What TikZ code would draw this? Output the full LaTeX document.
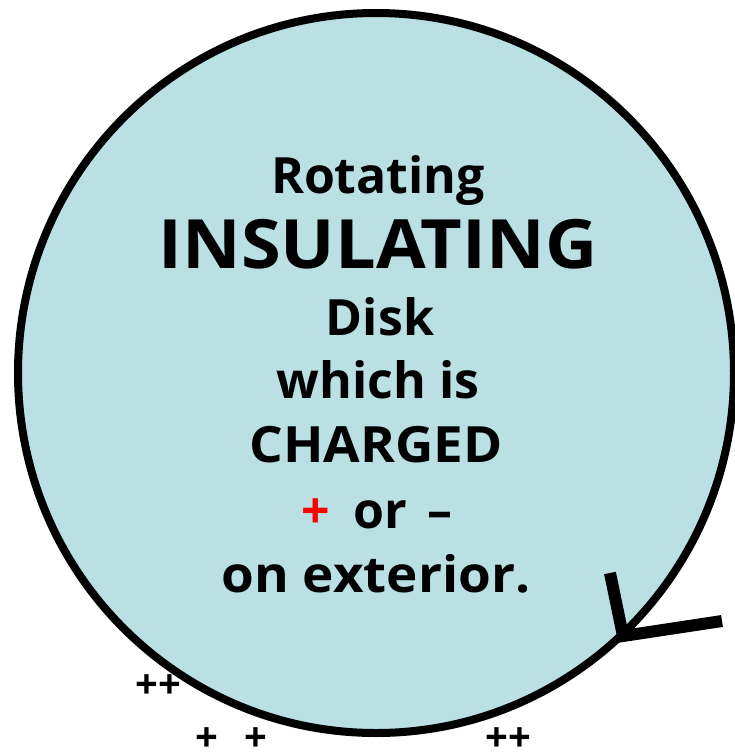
\documentclass[tikz,border=0pt]{standalone}
\usepackage{fontspec}
\setmainfont{Open Sans}
\newfontfamily\widefont{Open Sans}[FakeStretch=1.06]
\definecolor{diskfill}{RGB}{186,224,228}
\definecolor{plusred}{RGB}{255,0,0}
\begin{document}
\begin{tikzpicture}[x=1pt,y=-1pt,
  txt/.style={anchor=base,inner sep=0pt,font=\bfseries\fontsize{50}{50}\selectfont},
  widetxt/.style={anchor=base,inner sep=0pt,font=\widefont\bfseries\fontsize{50}{50}\selectfont},
  big/.style={anchor=base,inner sep=0pt,font=\widefont\bfseries\fontsize{68}{68}\selectfont},
  chg/.style={anchor=center,inner sep=0pt,font=\bfseries\fontsize{40}{40}\selectfont},
  ymark/.style={line width=12pt}]
\useasboundingbox (0,0) rectangle (735,753);
\draw[line width=8pt,fill=diskfill] (376,373) ellipse [x radius=358, y radius=360];
\node[txt] (l1) at (378,193) {Rotating};
\node[big] (l2) at (378,268) {INSULATING};
\node[txt] (l3) at (380,335) {Disk};
\node[txt] (l4) at (378,398) {which is};
\node[widetxt] (l5) at (376,462) {CHARGED};
\node[txt,text=plusred] (l6a) at (316,528) {+};
\node[txt] (l6b) at (380,528) {or};
\node[txt] (l6c) at (440,528) {–};
\node[widetxt] (l7) at (376,592) {on exterior.};
\coordinate (yj) at (623,636);
\coordinate (ya) at (610,573);
\coordinate (yb) at (722,621);
\draw[ymark] (ya) -- (yj) -- (yb);
\node[chg] (p1) at (158,687) {++};
\node[chg] (p2) at (207,740) {+};
\node[chg] (p3) at (256,740) {+};
\node[chg] (p4) at (508,740) {++};
\end{tikzpicture}
\end{document}
